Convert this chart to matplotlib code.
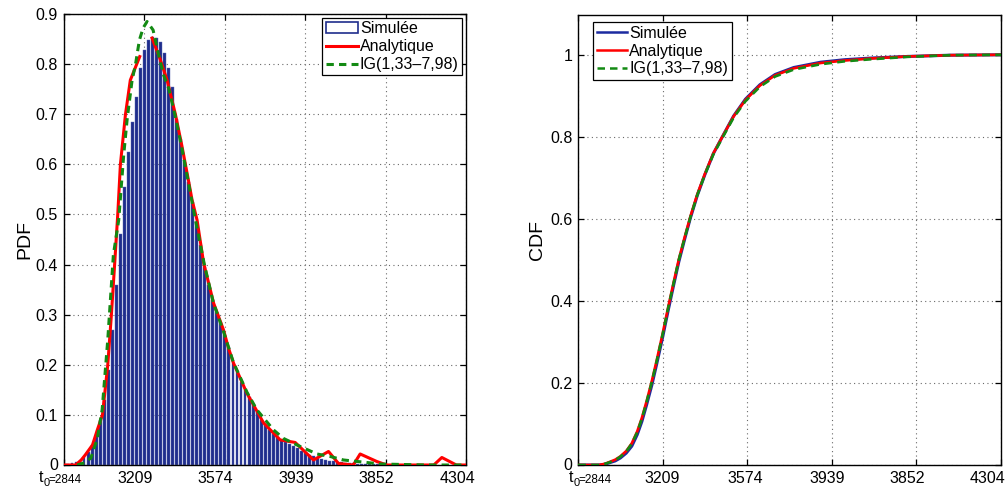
import numpy as np
import matplotlib
matplotlib.use('Agg')
import matplotlib.pyplot as plt
from matplotlib.patches import Patch
from matplotlib.lines import Line2D
from matplotlib.transforms import ScaledTranslation

plt.rcParams['font.family'] = ['Liberation Sans', 'DejaVu Sans']

# ---------------- data ----------------
tick_pos = [0, 1, 2, 3, 4, 5]
tick_labels = ['', '3209', '3574', '3939', '3852', '4304']
t0_label = '=2844'

bin_width = 0.05
sim_pdf = [0.002, 0.002, 0.003, 0.005, 0.008, 0.015, 0.025, 0.04, 0.06, 0.09,
           0.13, 0.19, 0.27, 0.36, 0.46, 0.555, 0.625, 0.685, 0.735, 0.792,
           0.828, 0.848, 0.855, 0.853, 0.844, 0.823, 0.792, 0.755, 0.69, 0.65,
           0.605, 0.565, 0.525, 0.485, 0.44, 0.395, 0.36, 0.33, 0.305, 0.285,
           0.26, 0.235, 0.205, 0.185, 0.165, 0.15, 0.135, 0.12, 0.105, 0.09,
           0.08, 0.07, 0.062, 0.055, 0.05, 0.045, 0.042, 0.038, 0.033, 0.028,
           0.024, 0.02, 0.017, 0.014, 0.012, 0.01, 0.008, 0.007, 0.006, 0.005,
           0.004, 0.003, 0.003, 0.002, 0.002, 0.002, 0.001, 0.001, 0.001, 0.001]

ana_x = [0.0, 0.15, 0.22, 0.27, 0.36, 0.42, 0.484, 0.55, 0.595, 0.635, 0.674,
         0.707, 0.77, 0.83, 0.947, np.nan,
         1.10, 1.20, 1.287, 1.39, 1.473, 1.551, 1.597, 1.659, 1.741, 1.865,
         1.989, 2.05, 2.113, 2.279, 2.485, 2.692, 2.878, 3.106, 3.292, 3.416,
         3.60, 3.685, 3.892, 4.016, 4.60, 4.70, 4.88, 5.0]
ana_pdf = [0.0, 0.0, 0.01, 0.02, 0.04, 0.07, 0.10, 0.20, 0.30, 0.40, 0.50,
           0.60, 0.70, 0.768, 0.815, np.nan,
           0.852, 0.81, 0.768, 0.70, 0.635, 0.569, 0.529, 0.489, 0.403, 0.323,
           0.269, 0.233, 0.203, 0.143, 0.084, 0.05, 0.045, 0.010, 0.027, 0.003,
           0.0, 0.022, 0.007, 0.0, 0.0, 0.015, 0.0, 0.0]

ig_x = [0.17, 0.27, 0.34, 0.42, 0.48, 0.55, 0.62, 0.686, 0.748, 0.79, 0.852,
        0.893, 0.943, 0.989, 1.038, 1.113, 1.182, 1.244, 1.306, 1.39, 1.473,
        1.55, 1.65, 1.75, 1.86, 1.99, 2.11, 2.28, 2.403, 2.609, 2.733, 2.9,
        3.148, 3.313, 3.478, 3.768, 3.933, 4.5, 5.0]
ig_pdf = [0.0, 0.005, 0.014, 0.053, 0.11, 0.25, 0.42, 0.489, 0.619, 0.689, 0.768,
          0.798, 0.848, 0.872, 0.885, 0.868, 0.818, 0.778, 0.752, 0.695, 0.63,
          0.565, 0.48, 0.40, 0.325, 0.265, 0.205, 0.145, 0.11, 0.07, 0.053, 0.04,
          0.022, 0.017, 0.01, 0.005, 0.002, 0.0, 0.0]

cdf_x = [0.0, 0.25, 0.32, 0.38, 0.44, 0.50, 0.57, 0.636, 0.70, 0.755, 0.81,
         0.873, 0.93, 1.00, 1.066, 1.13, 1.19, 1.26, 1.327, 1.41, 1.50, 1.60,
         1.706, 1.84, 1.98, 2.15, 2.33, 2.55, 2.87, 3.15, 3.46, 3.9, 4.4, 5.0]
cdf_ana = [0.0, 0.0, 0.003, 0.008, 0.013, 0.021, 0.034, 0.053, 0.082, 0.115, 0.155,
           0.205, 0.255, 0.32, 0.385, 0.445, 0.50, 0.555, 0.605, 0.66, 0.71, 0.76,
           0.80, 0.85, 0.89, 0.925, 0.95, 0.967, 0.98, 0.986, 0.991, 0.996, 0.999, 1.0]
cdf_sim = [0.0, 0.0, 0.002, 0.006, 0.010, 0.017, 0.029, 0.046, 0.074, 0.106, 0.146,
           0.195, 0.246, 0.311, 0.377, 0.438, 0.494, 0.550, 0.601, 0.657, 0.708, 0.759,
           0.80, 0.851, 0.892, 0.927, 0.952, 0.969, 0.982, 0.988, 0.992, 0.996, 0.999, 1.0]
cdf_ig = [0.0, 0.0, 0.003, 0.007, 0.012, 0.020, 0.033, 0.052, 0.080, 0.113, 0.153,
          0.203, 0.253, 0.318, 0.383, 0.443, 0.499, 0.553, 0.603, 0.658, 0.708, 0.757,
          0.797, 0.847, 0.887, 0.922, 0.947, 0.964, 0.977, 0.984, 0.989, 0.995, 0.999, 1.0]

legend_labels = ['Simulée', 'Analytique', 'IG(1,33–7,98)']

# ---------------- styles ----------------
NAVY = '#1f2d8c'
BLUE_LINE = '#1c2ba0'
RED = '#ff0000'
GREEN = '#138a13'
GRID = dict(color='#6a6a6a', linestyle=(0, (1, 3)), linewidth=0.8)
FS = 11.5

W, H = 1008, 491
fig = plt.figure(figsize=(W / 100, H / 100), dpi=100)

def px_axes(l, r, t, b):
    return fig.add_axes([l / W, (H - b) / H, (r - l) / W, (b - t) / H])

ax1 = px_axes(63.5, 466, 14, 465)
ax2 = px_axes(578, 1001, 15, 465)

# ---------- left: PDF ----------
centers = 0.005 + bin_width * np.arange(len(sim_pdf))
ax1.bar(centers, sim_pdf, width=bin_width * 0.72, color=NAVY,
        edgecolor='#5a67b5', linewidth=0.3, zorder=2)
ax1.plot(ana_x, ana_pdf, color=RED, lw=2.2, zorder=3)
ax1.plot(ig_x, ig_pdf, color=GREEN, lw=2.2, linestyle=(0, (2.4, 1.7)), zorder=4)
ax1.set_xlim(0, 5)
ax1.set_ylim(0, 0.9)
ax1.set_yticks(np.round(np.arange(0, 0.91, 0.1), 1))
ax1.set_yticklabels(['0'] + ['%.1f' % v for v in np.arange(0.1, 0.91, 0.1)])
ax1.set_ylabel('PDF', fontsize=14)
ax1.yaxis.set_label_coords(-0.075, 0.5)

h1 = [Patch(facecolor='white', edgecolor=NAVY, linewidth=1.2),
      Line2D([], [], color=RED, lw=2.2),
      Line2D([], [], color=GREEN, lw=2.2, linestyle=(0, (2.4, 1.7)))]
leg1 = ax1.legend(h1, legend_labels, loc='upper right',
                  bbox_to_anchor=(1 - 4 / 402.5, 1 - 4.3 / 451), borderaxespad=0,
                  fontsize=FS, fancybox=False, framealpha=1, edgecolor='black',
                  handlelength=2.0, handletextpad=0.15, labelspacing=0.18,
                  borderpad=0.2)
leg1.get_frame().set_linewidth(0.9)

# ---------- right: CDF ----------
ax2.plot(cdf_x, cdf_sim, color=BLUE_LINE, lw=2.2, zorder=2)
ax2.plot(cdf_x, cdf_ana, color=RED, lw=1.9, zorder=3)
ax2.plot(cdf_x, cdf_ig, color=GREEN, lw=1.9, linestyle=(0, (3, 2)), zorder=4)
ax2.set_xlim(0, 5)
ax2.set_ylim(0, 1.097)
ax2.set_yticks([0, 0.2, 0.4, 0.6, 0.8, 1.0])
ax2.set_yticklabels(['0', '0.2', '0.4', '0.6', '0.8', '1'])
ax2.set_ylabel('CDF', fontsize=14)
ax2.yaxis.set_label_coords(-0.076, 0.5)

h2 = [Line2D([], [], color=BLUE_LINE, lw=1.8),
      Line2D([], [], color=RED, lw=1.8),
      Line2D([], [], color=GREEN, lw=1.8, linestyle=(0, (3, 2)))]
leg2 = ax2.legend(h2, legend_labels, loc='upper left',
                  bbox_to_anchor=(14.7 / 423, 1 - 6.7 / 450), borderaxespad=0,
                  fontsize=FS, fancybox=False, framealpha=1, edgecolor='black',
                  handlelength=1.9, handletextpad=0.15, labelspacing=0.18,
                  borderpad=0.25)
leg2.get_frame().set_linewidth(0.9)

for ax in (ax1, ax2):
    ax.set_xticks(tick_pos)
    ax.set_xticklabels(tick_labels)
    ax.grid(True, **GRID)
    ax.set_axisbelow(True)
    ax.tick_params(direction='in', length=4, width=0.9, top=True, right=True,
                   labelsize=FS, pad=4, colors='black')
    for s in ax.spines.values():
        s.set_linewidth(1.0)
        s.set_color('black')

# x tick labels sit a bit left of their ticks
left_shift = [0, -9, -9, -9, -9, -9]
right_shift = [0, 0, -2, -5, -9, -13]
for ax, shifts in ((ax1, left_shift), (ax2, right_shift)):
    for lab, dx in zip(ax.get_xticklabels(), shifts):
        lab.set_transform(lab.get_transform() +
                          ScaledTranslation(dx / 100, 0, fig.dpi_scale_trans))

# y tick label "0" sits slightly high so it clears the t0 label
for ax in (ax1, ax2):
    lab0 = ax.get_yticklabels()[0]
    lab0.set_transform(lab0.get_transform() +
                       ScaledTranslation(0, 1.5 / 100, fig.dpi_scale_trans))

# t0 = 2844 labels
def t0(ax, dx):
    ax.annotate('t', xy=(0, 0), xycoords='axes fraction', xytext=(dx, -17.5),
                textcoords='offset pixels', ha='right', va='baseline', fontsize=FS)
    ax.annotate('0', xy=(0, 0), xycoords='axes fraction', xytext=(dx + 0.3, -21),
                textcoords='offset pixels', ha='left', va='baseline', fontsize=8)
    ax.annotate(t0_label, xy=(0, 0), xycoords='axes fraction', xytext=(dx + 5, -18.2),
                textcoords='offset pixels', ha='left', va='baseline', fontsize=8.5)

t0(ax1, -20.2)
t0(ax2, -4.7)

fig.savefig('out.png', dpi=100)
